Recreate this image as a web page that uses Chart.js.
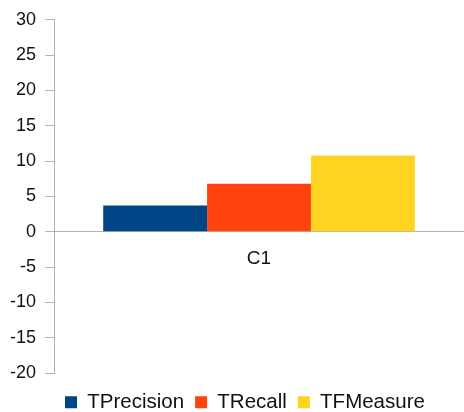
<!DOCTYPE html>
<html>
<head>
<meta charset="utf-8">
<script src="https://cdn.jsdelivr.net/npm/chart.js@4"></script>
<style>
  html, body { margin: 0; padding: 0; background: #fff; }
  #wrap { width: 464px; height: 412px; }
</style>
</head>
<body>
<div id="wrap"><canvas id="chart"></canvas></div>
<script>
Chart.defaults.font.family = "'Liberation Sans', Arial, sans-serif";
Chart.defaults.font.size = 18;
Chart.defaults.color = '#111';

const axisGrey = '#b3b3b3';

const categories = ['C1'];
const tPrecision = [3.7];
const tRecall = [6.8];
const tFMeasure = [10.8];
const yTicks = { min: -20, max: 30, step: 5 };

new Chart(document.getElementById('chart'), {
  type: 'bar',
  data: {
    labels: categories,
    datasets: [
      { label: 'TPrecision', data: tPrecision, backgroundColor: '#004586' },
      { label: 'TRecall', data: tRecall, backgroundColor: '#ff420e' },
      { label: 'TFMeasure', data: tFMeasure, backgroundColor: '#ffd320' }
    ]
  },
  options: {
    responsive: true,
    maintainAspectRatio: false,
    animation: false,
    layout: { padding: { top: 10, right: 0, left: 1, bottom: 0 } },
    datasets: { bar: { categoryPercentage: 0.76, barPercentage: 1 } },
    plugins: {
      tooltip: { enabled: false },
      legend: {
        position: 'bottom',
        align: 'start',
        fullSize: false,
        maxHeight: 39,
        // empty title only adds a little space above the legend row
        title: { display: true, text: '', font: { size: 5 }, padding: 1 },
        labels: { boxWidth: 12, boxHeight: 12, padding: 11, font: { size: 20.5 } }
      }
    },
    scales: {
      x: {
        position: { y: 0 },
        grid: { display: false, borderColor: axisGrey },
        border: { color: axisGrey },
        ticks: { padding: 8, font: { size: 19 } }
      },
      y: {
        min: yTicks.min,
        max: yTicks.max,
        ticks: { stepSize: yTicks.step, padding: 9 },
        grid: {
          drawOnChartArea: false, drawTicks: true, tickLength: 9,
          color: axisGrey, tickColor: axisGrey, borderColor: axisGrey
        },
        border: { color: axisGrey }
      }
    }
  }
});
</script>
</body>
</html>
